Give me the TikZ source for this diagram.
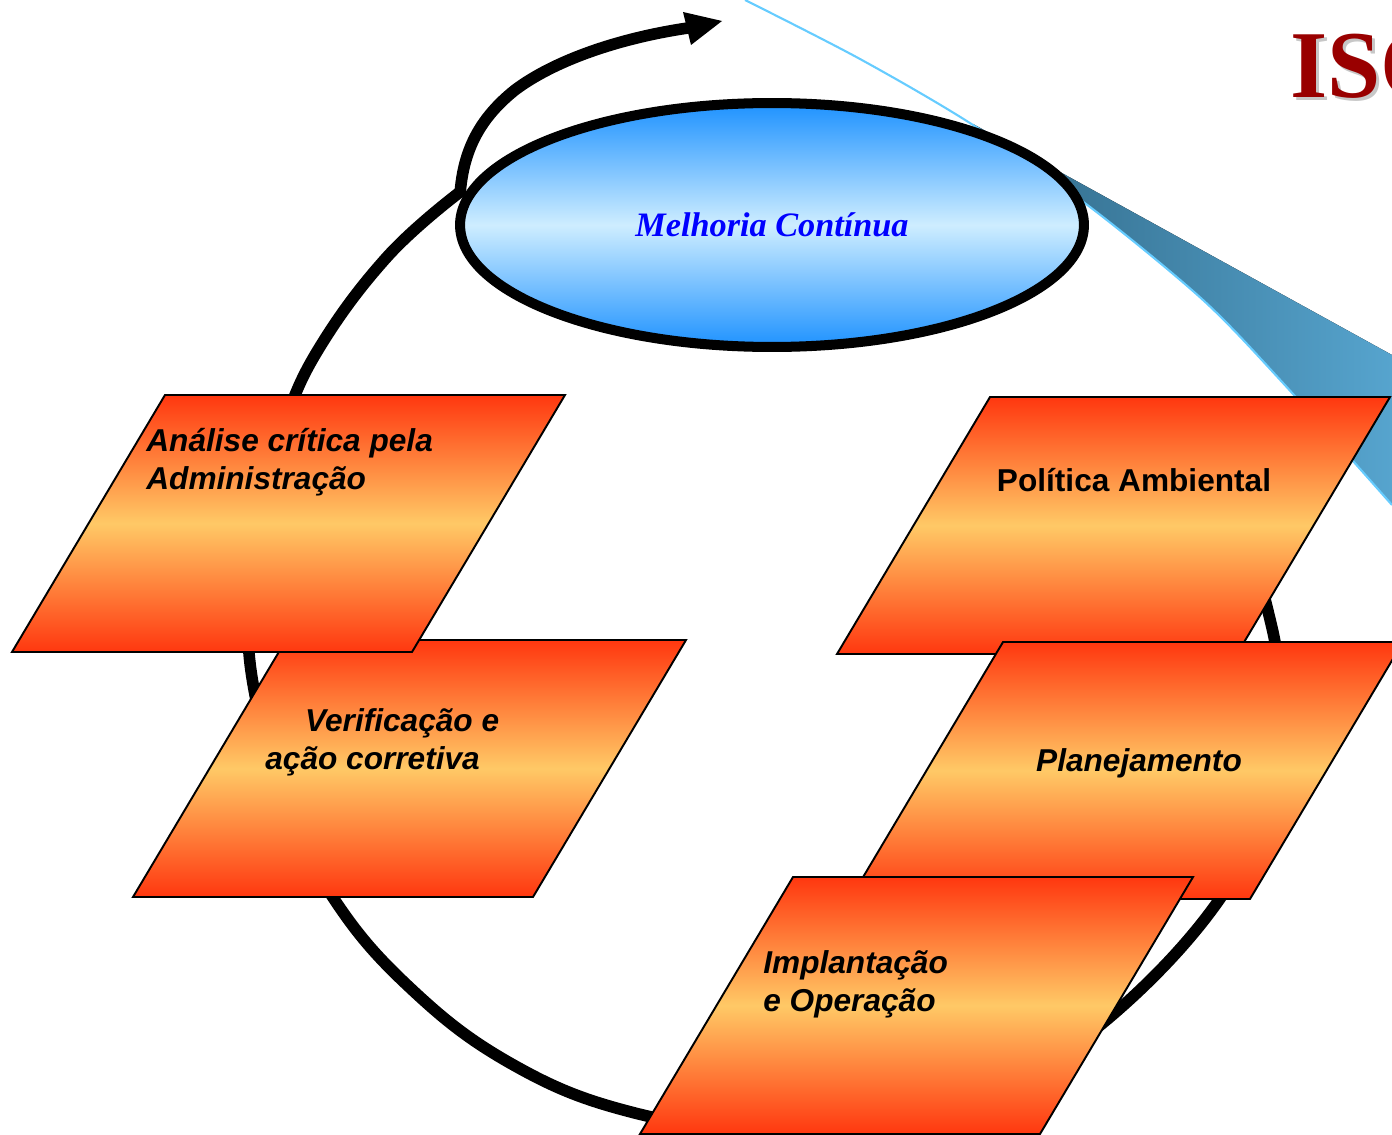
\documentclass[tikz,border=0pt]{standalone}
\usepackage{fontspec}
\newfontfamily\sansf{Liberation Sans}
\newfontfamily\seriff{Liberation Serif}
\usetikzlibrary{shapes.geometric}

\definecolor{stageedge}{RGB}{255,55,15}
\definecolor{stagemid}{RGB}{255,201,102}
\definecolor{ovaldeep}{RGB}{30,146,255}
\definecolor{ovallight}{RGB}{206,237,255}
\definecolor{wedgedark}{RGB}{48,104,134}
\definecolor{wedgelight}{RGB}{86,164,206}
\definecolor{rayblue}{RGB}{102,204,255}
\definecolor{isored}{RGB}{153,0,0}
\definecolor{titleblue}{RGB}{0,0,255}

\begin{document}
\begin{tikzpicture}[x=0.02cm, y=-0.02cm,
  stage/.style={draw=black, line width=1.1pt, line join=miter,
    top color=stageedge, bottom color=stageedge, middle color=stagemid},
  stagetext/.style={font=\sansf\bfseries\itshape\fontsize{18}{21.8}\selectfont,
    inner sep=0pt, align=left, text=black},
  cycleline/.style={line width=6.6pt, draw=black},
  isotext/.style={font=\seriff\bfseries\fontsize{54.5}{60}\selectfont,
    anchor=base west, inner sep=0pt},
]
\useasboundingbox (0,0) rectangle (1392,1135);
\clip (0,0) rectangle (1392,1135);

% callout wedge spreading from the oval
\fill[left color=wedgedark, right color=wedgelight]
  (973,124) -- (1392,355) -- (1392,505)
  -- plot[smooth] coordinates {(1392,505) (1283,383) (1203,300) (1090,207) (973,125)}
  -- cycle;
\draw[rayblue, line width=1.2pt]
  plot[smooth] coordinates {(745,0) (860,59) (973,125) (1090,207) (1203,300) (1283,383) (1392,505)};

% improvement cycle
\draw[cycleline, line cap=round, line join=round]
  plot[smooth, tension=0.7] coordinates {
    (1232,500) (1266,603) (1278,690) (1262,800) (1219,900)
    (1110,1017) (1016,1073) (891,1115) (760,1128) (631,1112) (510,1063)
    (406,984) (330,893) (285,800) (256,700) (248,610) (258,510) (282,430)
    (318,350) (387,257) (460,192)};
\coordinate (turn) at (460,195);
\coordinate (mid) at (515,90);
\coordinate (headbase) at (688,28);
\draw[cycleline, line cap=butt]
  (turn) .. controls (463,150) and (480,118) .. (mid)
         .. controls (555,60) and (620,38) .. (headbase);
\fill[black] (683,12) -- (722,21) -- (691,45) -- cycle;

% central oval
\node[ellipse, draw=black, line width=5.7pt, minimum width=12.48cm,
  minimum height=4.88cm, inner sep=0pt,
  top color=ovaldeep, bottom color=ovaldeep, middle color=ovallight,
  font=\seriff\bfseries\itshape\fontsize{19.5}{23}\selectfont, text=titleblue]
  (melhoria) at (772,225) {Melhoria Contínua};

% stages
\path[stage] (286,640) -- ++(400,0) -- ++(-153,257) -- ++(-400,0) -- cycle;
\path[stage] (165,395) -- ++(400,0) -- ++(-153,257) -- ++(-400,0) -- cycle;
\path[stage] (990,397) -- ++(400,0) -- ++(-153,257) -- ++(-400,0) -- cycle;
\path[stage] (1003,642) -- ++(400,0) -- ++(-153,257) -- ++(-400,0) -- cycle;
\path[stage] (793,877) -- ++(400,0) -- ++(-153,257) -- ++(-400,0) -- cycle;

\node[stagetext, anchor=west] (analise) at (146,462)
  {Análise crítica pela\\Administração};
\node[stagetext, anchor=west] (verificacao) at (265,742)
  {\hspace*{22.7pt}Verificação e\\ação corretiva};
\node[stagetext, font=\sansf\bfseries\fontsize{18}{21.8}\selectfont]
  (politica) at (1134,480) {Política Ambiental};
\node[stagetext] (planejamento) at (1139,763) {Planejamento};
\node[stagetext, anchor=west] (implantacao) at (763,984)
  {Implantação\\e Operação};

% title
\node[isotext, text=black!22] (isoshadow) at (1293,101) {ISO};
\node[isotext, text=isored] (iso) at (1290,98) {ISO};
\end{tikzpicture}
\end{document}
